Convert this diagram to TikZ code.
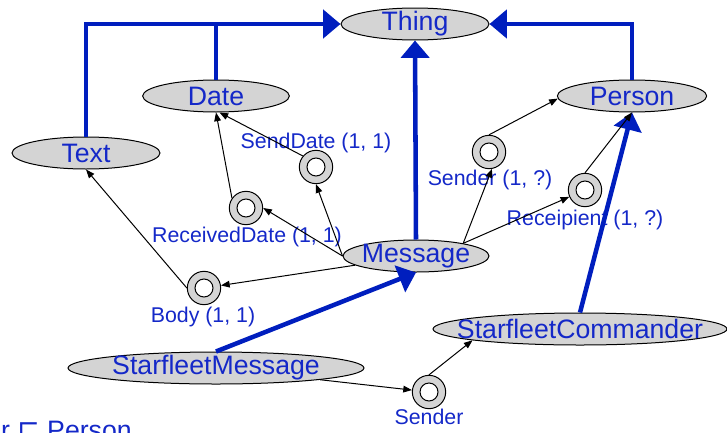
\documentclass[tikz,border=0pt]{standalone}
\usepackage{fontspec}
\setmainfont{Liberation Sans}
\newfontfamily\opfont{DejaVu Sans}
\usetikzlibrary{shapes.geometric}
\usetikzlibrary{arrows.meta}
\definecolor{clsblue}{RGB}{20,40,200}
\definecolor{isablue}{RGB}{0,30,190}
\definecolor{clsgray}{RGB}{212,212,212}

\begin{document}
\begin{tikzpicture}[x=0.75pt, y=-0.75pt]
	\tikzstyle{cls}=[draw, shape=ellipse, fill=clsgray, line width=0.75pt, inner sep=0pt, minimum height=24pt]
	\tikzstyle{clsname}=[text=clsblue, font=\fontsize{20}{24}\selectfont, inner sep=0pt]
	\tikzstyle{ring}=[draw, shape=circle, fill=clsgray, line width=0.75pt, inner sep=0pt, minimum size=25pt, path picture={\draw[fill=white, line width=0.75pt] (path picture bounding box.center) circle (6.75pt);}]
	\tikzstyle{lbl}=[text=clsblue, font=\fontsize{16}{19}\selectfont, inner sep=0pt, anchor=base]
	\tikzstyle{isa}=[draw=isablue, line width=3.4pt, -{Triangle[length=13pt, width=21pt]}]
	\tikzstyle{rel}=[draw=black, line width=0.75pt, -{Triangle[length=6.5pt, width=5pt]}]
	
	\useasboundingbox (0,0) rectangle (727,432);
	
	% classes
	\node[cls, minimum width=111pt, label={[clsname]center:Thing}](thing) at (415,24){};
	\node[cls, minimum width=110pt, label={[clsname]center:Date}](date) at (216,96){};
	\node[cls, minimum width=111pt, label={[clsname]center:Text}](text) at (86,153){};
	\node[cls, minimum width=112pt, label={[clsname]center:Person}](person) at (632,96){};
	\node[cls, minimum width=109.5pt, label={[clsname]center:Message}](msg) at (416,256){};
	\node[cls, minimum width=222pt, label={[clsname]center:StarfleetMessage}](sm) at (216,368){};
	\node[cls, minimum width=220.5pt, label={[clsname]center:StarfleetCommander}](sc) at (580,329){};
	
	% properties
	\node[ring](sdate) at (316,167){};
	\node[ring](rdate) at (246,208){};
	\node[ring](body) at (204,288){};
	\node[ring](sndr) at (489,152){};
	\node[ring](recp) at (585,190){};
	\node[ring](sndr2) at (429,392){};
	
	\node[lbl](sdatelbl) at (316,148){SendDate (1, 1)};
	\node[lbl](rdatelbl) at (247,242){ReceivedDate (1, 1)};
	\node[lbl](bodylbl) at (203,322){Body (1, 1)};
	\node[lbl](sndrlbl) at (490,185){Sender (1, ?)};
	\node[lbl](recplbl) at (585,225){Receipient (1, ?)};
	\node[lbl](sndr2lbl) at (429,424){Sender};
	
	\node[clsname, anchor=base east](axiom) at (132,439){Sender {\opfont ⊑} Person};
	
	% subclass links
	\draw[isa] (text.north) |- (thing.west);
	\draw[isa,-] (date.north) -- (date.north |- thing.west);
	\draw[isa] (person.north) |- (thing.east);
	\draw[isa] (msg.north) -- (thing.south);
	\draw[isa] (sm.north) -- (msg.south);
	\draw[isa] (sc.north) -- (person.south);
	
	% property links
	\draw[rel] (body.west) -- (text.south);
	\draw[rel] (msg) -- (body);
	\draw[rel] (msg.west) -- (rdate.east);
	\draw[rel] (msg.west) -- (sdate.south);
	\draw[rel] (rdate.145) -- (date.south);
	\draw[rel] (sdate.140) -- (date.-78);
	
	\draw[rel] (msg.15) -- (sndr.-80);
	\draw[rel] (msg.15) -- (recp);
	\draw[rel] (sndr.north) -- (person.182);
	\draw[rel] (recp.north) -- (person.south);
	
	\draw[rel] (sm) -- (sndr2);
	\draw[rel] (sndr2.north) -- (sc.186);
\end{tikzpicture}
\end{document}
